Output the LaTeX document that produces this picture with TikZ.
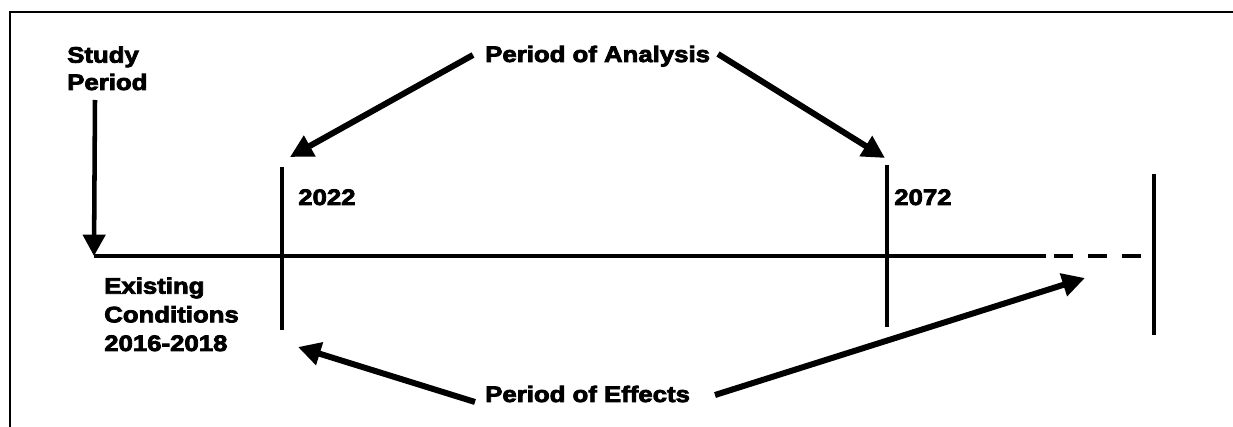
\documentclass[tikz,border=0pt]{standalone}
\usepackage{fontspec}
\newfontfamily\lbl[FakeStretch=1.15,FakeBold=3.5]{Liberation Sans Bold}
\usetikzlibrary{arrows.meta}
\begin{document}
\begin{tikzpicture}[x=0.75pt,y=-0.75pt,
  lab/.style={inner sep=0pt,anchor=base west,align=left,font=\lbl\fontsize{16.8}{20.5}\selectfont},
  bigarrow/.style={line width=4.5pt,-{Triangle[length=17pt,width=17pt]}},
  tline/.style={line width=3.4pt},
  tick/.style={line width=3pt}]
\useasboundingbox (0,0) rectangle (1233,427);
% frame
\draw[line width=1.6pt] (1233,12) -- (10,12) -- (10,427);
% labels
\node[lab] (study) at (67,90) {Study\\Period};
\node[lab,font=\lbl\fontsize{16.8}{21.5}\selectfont] (exist) at (104,351) {Existing\\Conditions\\2016-2018};
\node[lab] (y2022) at (298,205) {2022};
\node[lab] (y2072) at (894,205) {2072};
\node[lab] (poa) at (485,62) {Period of Analysis};
\node[lab] (poe) at (485,402) {Period of Effects};
% coordinates
\coordinate (t0) at (94,256);
\coordinate (t1) at (1046,256);
\coordinate (d0) at (1054,256);
\coordinate (d1) at (1141,256);
\coordinate (s0) at (95,100);
\coordinate (a22t) at (282,167);
\coordinate (a22b) at (282,330);
\coordinate (a72t) at (887,165);
\coordinate (a72b) at (887,327);
\coordinate (endt) at (1154,174);
\coordinate (endb) at (1154,335);
\coordinate (pa1) at (473,55);
\coordinate (pa1t) at (290,157);
\coordinate (pa2) at (718,54);
\coordinate (pa2t) at (885,158);
\coordinate (pe1) at (475,402);
\coordinate (pe1t) at (298,347);
\coordinate (pe2) at (715,395);
\coordinate (pe2t) at (1085,278);
% timeline
\draw[tline] (t0) -- (t1);
\draw[tline,dash pattern=on 14.25pt off 11.25pt] (d0) -- (d1);
\draw[tick] (a22t) -- (a22b);
\draw[tick] (a72t) -- (a72b);
\draw[line width=3.6pt] (endt) -- (endb);
% arrows
\draw[line width=3.4pt,-{Triangle[length=16pt,width=16.5pt]}] (s0) -- (t0);
\draw[bigarrow] (pa1) -- (pa1t);
\draw[bigarrow] (pa2) -- (pa2t);
\draw[bigarrow] (pe1) -- (pe1t);
\draw[bigarrow] (pe2) -- (pe2t);
\end{tikzpicture}
\end{document}
